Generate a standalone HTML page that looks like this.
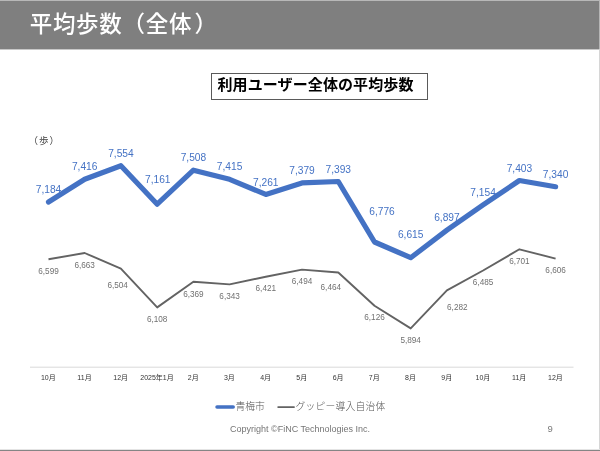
<!DOCTYPE html>
<html lang="ja"><head><meta charset="utf-8"><title>平均歩数（全体）</title>
<style>
html,body{margin:0;padding:0;background:#fff}
body{width:600px;height:451px;position:relative;overflow:hidden;font-family:"Liberation Sans","Noto Sans CJK JP",sans-serif}
.hdr{position:absolute;left:0;top:0;width:600px;height:50px;background:#7f7f7f;border-top:1px solid #b8b8b8;border-bottom:1px solid #c8c8c8;box-sizing:border-box}
.hdr h1{margin:0;position:absolute;left:29.7px;top:10px;font-size:22.5px;line-height:28px;font-weight:500;color:#fff;white-space:nowrap;letter-spacing:0.7px}
.re{position:absolute;left:599px;top:0;width:1px;height:451px;background:#d6d6d6}
.re2{position:absolute;left:599px;top:0;width:1px;height:49px;background:#b5b5b5}
.be{position:absolute;left:0;top:449px;width:600px;height:2px;box-sizing:border-box;border-top:1px solid #e4e4e4;border-bottom:1px solid #858585}
.tbox{position:absolute;left:210.5px;top:73px;width:217px;height:26.5px;box-sizing:border-box;border:1px solid #5a5a5a;text-align:left;padding-left:6px;letter-spacing:0.1px;font-size:15px;line-height:22px;font-weight:bold;color:#000;white-space:nowrap}
.unit{position:absolute;left:28.5px;top:134.5px;letter-spacing:1px;font-size:9.5px;line-height:12px;color:#404040;white-space:nowrap}
.legend{position:absolute;top:401.3px;font-size:9.8px;line-height:12px;color:#555;font-weight:300;white-space:nowrap}
.foot{position:absolute;top:423.2px;left:230px;font-size:9px;line-height:12px;color:#757575;white-space:nowrap}
.pg{position:absolute;top:423.2px;left:547.5px;font-size:9.5px;line-height:12px;color:#7a7a7a}
</style></head><body>
<div class="hdr"><h1>平均歩数（全体<span style="margin-left:2.4px">）</span></h1></div>
<div class="tbox">利用ユーザー全体の平均歩数</div>
<div class="unit">（歩）</div>
<svg width="600" height="451" viewBox="0 0 600 451" style="position:absolute;left:0;top:0">
<line x1="30.0" y1="367.2" x2="573.5" y2="367.2" stroke="#d9d9d9" stroke-width="1"/>
<polyline points="48.5,259.3 84.7,253.0 120.9,268.6 157.2,307.4 193.4,281.8 229.6,284.4 265.8,276.7 302.0,269.6 338.3,272.5 374.5,305.7 410.7,328.4 446.9,290.4 483.1,270.5 519.4,249.3 555.6,258.6" fill="none" stroke="#636363" stroke-width="1.9" stroke-linejoin="round" stroke-linecap="butt"/>
<polyline points="48.5,202.0 84.7,179.2 120.9,165.7 157.2,204.2 193.4,170.2 229.6,179.3 265.8,194.4 302.0,182.9 338.3,181.5 374.5,242.0 410.7,257.7 446.9,230.1 483.1,204.9 519.4,180.5 555.6,186.7" fill="none" stroke="#4472c4" stroke-width="5.2" stroke-linejoin="round" stroke-linecap="round"/>
<g font-family="Liberation Sans, sans-serif" font-size="10.2" fill="#4472c4" text-anchor="middle">
<text x="48.5" y="193.1">7,184</text>
<text x="84.7" y="170.3">7,416</text>
<text x="120.9" y="156.8">7,554</text>
<text x="157.8" y="182.7">7,161</text>
<text x="193.4" y="161.3">7,508</text>
<text x="229.6" y="170.4">7,415</text>
<text x="265.8" y="185.5">7,261</text>
<text x="302.0" y="174.0">7,379</text>
<text x="338.3" y="172.6">7,393</text>
<text x="382.0" y="214.7">6,776</text>
<text x="410.7" y="237.7">6,615</text>
<text x="446.9" y="221.2">6,897</text>
<text x="483.1" y="196.0">7,154</text>
<text x="519.4" y="171.6">7,403</text>
<text x="555.6" y="177.8">7,340</text>
</g>
<g font-family="Liberation Sans, sans-serif" font-size="8.2" fill="#707070" text-anchor="middle">
<text x="48.5" y="274.0">6,599</text>
<text x="84.7" y="267.7">6,663</text>
<text x="117.7" y="288.0">6,504</text>
<text x="157.2" y="322.1">6,108</text>
<text x="193.4" y="296.5">6,369</text>
<text x="229.6" y="299.1">6,343</text>
<text x="265.8" y="291.4">6,421</text>
<text x="302.0" y="284.3">6,494</text>
<text x="330.8" y="290.2">6,464</text>
<text x="374.5" y="320.4">6,126</text>
<text x="410.7" y="343.1">5,894</text>
<text x="457.3" y="309.9">6,282</text>
<text x="483.1" y="285.2">6,485</text>
<text x="519.4" y="264.0">6,701</text>
<text x="555.6" y="273.3">6,606</text>
</g>
<g font-family="Liberation Sans, Noto Sans CJK JP, sans-serif" font-size="7" fill="#333" text-anchor="middle">
<text x="48.3" y="380.4">10月</text>
<text x="84.5" y="380.4">11月</text>
<text x="120.7" y="380.4">12月</text>
<text x="157.0" y="380.4">2025年1月</text>
<text x="193.2" y="380.4">2月</text>
<text x="229.4" y="380.4">3月</text>
<text x="265.6" y="380.4">4月</text>
<text x="301.8" y="380.4">5月</text>
<text x="338.1" y="380.4">6月</text>
<text x="374.3" y="380.4">7月</text>
<text x="410.5" y="380.4">8月</text>
<text x="446.7" y="380.4">9月</text>
<text x="482.9" y="380.4">10月</text>
<text x="519.2" y="380.4">11月</text>
<text x="555.4" y="380.4">12月</text>
</g>
<line x1="217" y1="407" x2="233.2" y2="407" stroke="#4472c4" stroke-width="3.5" stroke-linecap="round"/>
<line x1="278.2" y1="407.1" x2="294" y2="407.1" stroke="#636363" stroke-width="1.9" stroke-linecap="round"/>
</svg>
<div class="legend" style="left:235.5px">青梅市</div>
<div class="legend" style="left:295.6px;letter-spacing:0.2px">グッピー導入自治体</div>
<div class="foot">Copyright ©FiNC Technologies Inc.</div>
<div class="pg">9</div>
<div class="re"></div><div class="re2"></div><div class="be"></div>
</body></html>
